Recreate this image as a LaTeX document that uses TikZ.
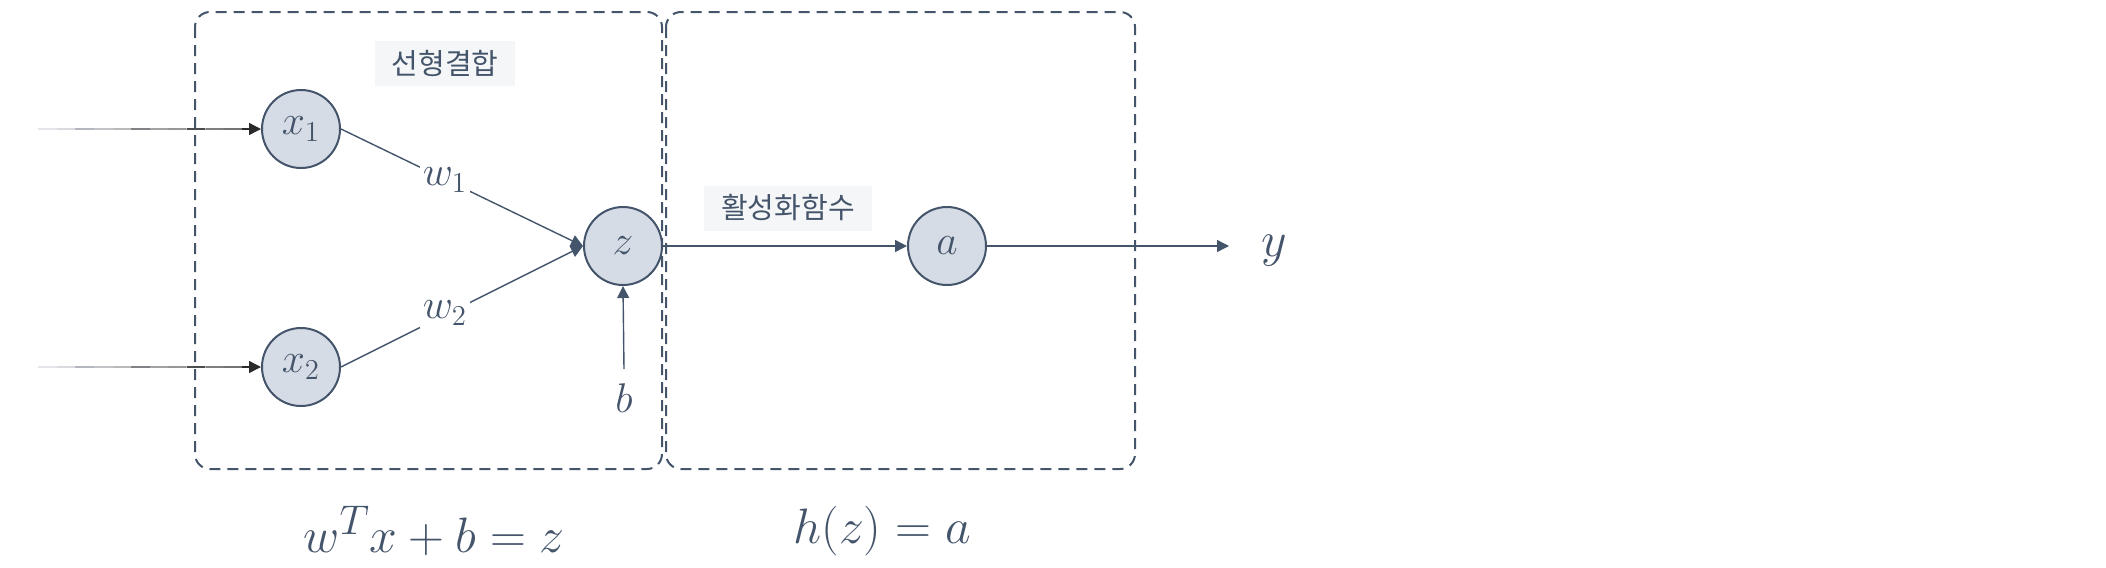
\documentclass[tikz,border=0pt]{standalone}
\usepackage{fontspec}
\newfontfamily\kr{Noto Sans CJK KR}
\usetikzlibrary{arrows.meta,calc}
\definecolor{ink}{HTML}{44546A}
\definecolor{nodefill}{HTML}{D6DCE5}
\definecolor{lblfill}{HTML}{F5F6F8}
\definecolor{lineL}{HTML}{D5D9E0}
\definecolor{lineR}{HTML}{2A2A2A}
\begin{document}
\begin{tikzpicture}[x=0.5pt,y=-0.5pt,
  neuron/.style={circle, draw=ink, fill=nodefill, line width=1pt, minimum size=39pt, inner sep=0pt, text=ink, font=\fontsize{20.74}{24}\selectfont},
  mathlbl/.style={text=ink, inner sep=1.5pt, font=\fontsize{20.74}{24}\selectfont},
  formula/.style={text=ink, inner sep=0pt, font=\fontsize{24.88}{30}\selectfont},
  krlbl/.style={fill=lblfill, text=ink, inner xsep=8.5pt, minimum height=22.5pt, font=\kr\fontsize{14.5}{17}\selectfont},
  groupbox/.style={draw=ink, line width=1pt, dash pattern=on 5.5pt off 3.5pt, rounded corners=7.5pt},
  conn/.style={draw=ink, line width=0.7pt, -{Triangle[length=6pt,width=6pt]}},
]
\useasboundingbox (0,0) rectangle (2106,568);
% group boxes
\draw[groupbox] (195,12) rectangle (662,469);
\draw[groupbox] (666,12) rectangle (1135,469);
% nodes
\node[neuron] (x1) at (301,129) {$x_1$};
\node[neuron] (x2) at (301,367) {$x_2$};
\node[neuron] (z) at (623,246) {$z$};
\node[neuron] (a) at (947,246) {$a$};
\coordinate (in1) at (38,129);
\coordinate (in2) at (38,367);
\coordinate (out) at (1229,246);
\node[mathlbl, font=\fontsize{24.88}{28}\selectfont] (y) at (1274,251) {$y$};
\node[mathlbl, inner sep=2pt] (b) at (624,398) {$b$};
\node[krlbl] (lc) at (445,63) {선형결합};
\node[krlbl] (act) at (788,208) {활성화함수};
% input connectors (fading lines)
\foreach \src/\dst in {in1/x1, in2/x2}{
  \foreach \i in {0,...,10}{
    \pgfmathsetmacro{\p}{\i*10}
    \pgfmathsetmacro{\s}{\i/12}
    \pgfmathsetmacro{\e}{(\i+1)/12}
    \draw[lineR!\p!lineL, line width=0.7pt] ($(\src)!\s!(\dst.west)$) -- ($(\src)!\e!(\dst.west)$);
  }
  \draw[lineR, line width=0.7pt, -{Triangle[length=6pt,width=6pt]}] ($(\src)!11/12!(\dst.west)$) -- (\dst.west);
}
% weighted connectors
\draw[conn] (x1.east) -- (z.west);
\draw[conn] (x2.east) -- (z.west);
\node[mathlbl, fill=white] (w1) at (445,180) {$w_1$};
\node[mathlbl, fill=white] (w2) at (445,313) {$w_2$};
% bias
\draw[conn] ($(b.north)+(0,-10)$) -- (z.south);
% activation
\draw[conn] (z.east) -- (a.west);
\draw[conn] (a.east) -- (out);
% formulas
\node[formula] (f1) at (434,531) {$w^Tx+b=z$};
\node[formula] (f2) at (882,531) {$h(z)=a$};
\end{tikzpicture}
\end{document}
